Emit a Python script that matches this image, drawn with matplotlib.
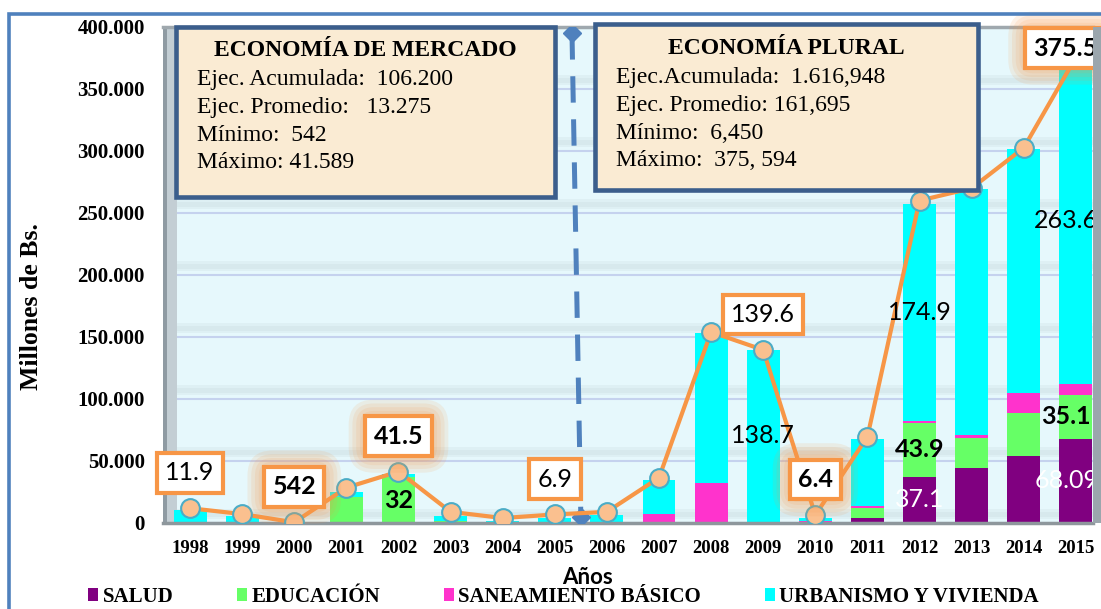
import numpy as np
import matplotlib
matplotlib.use('Agg')
import matplotlib.pyplot as plt
from matplotlib.patches import Rectangle
from matplotlib.ticker import FuncFormatter

# ---- data (miles de millones de Bs.) ----
years = [str(y) for y in range(1998, 2016)]
salud       = [0, 0, 0, 0, 0, 0, 0, 0, 0, 0, 0, 0, 0, 4.0, 37.1, 44.0, 54.0, 68.09]
educacion   = [1.0, 0.5, 0.2, 21.0, 37.0, 2.0, 0.5, 0.5, 0.3, 0, 0, 0, 0.3, 8.0, 43.9, 24.5, 34.7, 35.1]
saneamiento = [0, 0, 0, 0, 0, 0, 0, 0, 0, 7.3, 32.0, 0.9, 1.5, 1.7, 1.5, 2.5, 16.0, 8.7]
urbanismo   = [9.5, 5.1, 0.5, 4.0, 2.5, 4.0, 1.5, 3.5, 6.0, 27.4, 121.0, 138.7, 2.5, 54.3, 174.9, 198.0, 197.0, 263.6]
total       = [11.9, 7.2, 0.542, 28.5, 41.5, 9.0, 4.0, 6.9, 9.0, 36.5, 154.0, 139.6, 6.4, 69.5, 260.0, 270.0, 302.5, 375.5]

series_names = ['SALUD', 'EDUCACIÓN', 'SANEAMIENTO BÁSICO', 'URBANISMO Y VIVIENDA']
series_colors = ['#800080', '#66FF66', '#FF33CC', '#00FFFF']

# boxed labels on the total line
total_label_years = ['1998', '2000', '2002', '2005', '2009', '2010', '2015']
total_label_texts = ['11.9', '542', '41.5', '6.9', '139.6', '6.4', '375.5']
total_label_bold = [False, True, True, False, False, True, True]

# labels inside bar segments
seg_label_years = ['2002', '2009', '2012', '2012', '2012', '2015', '2015', '2015']
seg_label_series = [1, 3, 3, 1, 0, 3, 1, 0]
seg_label_texts = ['32', '138.7', '174.9', '43.9', '37.1', '263.6', '35.1', '68.09']
seg_label_bold = [True, False, False, True, False, False, True, False]
seg_label_color = ['black', 'black', 'black', 'black', 'white', 'black', 'black', 'white']

box1_title = 'ECONOMÍA DE MERCADO'
box1_lines = ['Ejec. Acumulada:  106.200', 'Ejec. Promedio:   13.275',
              'Mínimo:  542', 'Máximo: 41.589']
box2_title = 'ECONOMÍA PLURAL'
box2_lines = ['Ejec.Acumulada:  1.616,948', 'Ejec. Promedio: 161,695',
              'Mínimo:  6,450', 'Máximo:  375, 594']

plt.rcParams['font.family'] = ['Liberation Serif', 'DejaVu Serif']
plt.rcParams['lines.scale_dashes'] = False

W, H = 1101, 609
fig = plt.figure(figsize=(W / 100, H / 100), dpi=100)
fig.patch.set_facecolor('white')


def fx(px):
    return px / W


def fy(py):
    return 1 - py / H


ax = fig.add_axes([fx(163), fy(523), fx(1093) - fx(163), fy(27) - fy(523)])
ax.set_facecolor('#E6F8FC')

x = np.arange(len(years))
stack = [salud, educacion, saneamiento, urbanismo]
bottom = np.zeros(len(years))
bar_handles = []
for vals, name, col in zip(stack, series_names, series_colors):
    b = ax.bar(x, vals, width=0.63, bottom=bottom, color=col, label=name, zorder=2)
    bar_handles.append(b)
    bottom += np.array(vals)

ax.plot(x, total, color='#F79646', lw=3, marker='o', ms=13.5,
        mfc='#FAC08F', mec='#4BACC6', mew=1.5, zorder=5)

# divider between periods
ax.plot([7.33, 7.5], [395, 4.8], color='#4F81BD', lw=3.6, dashes=(19, 12),
        marker='D', ms=9, zorder=3)

ax.set_xlim(-0.52, 17.33)
ax.set_ylim(0, 400)
ax.set_xticks(x, years)
ax.set_yticks(np.arange(0, 401, 50))
ax.yaxis.set_major_formatter(FuncFormatter(lambda v, p: '0' if v == 0 else f'{int(v)}.000'))
ax.tick_params(axis='both', length=0)
ax.tick_params(axis='x', pad=12, labelsize=13.5)
ax.tick_params(axis='y', pad=13, labelsize=15)
plt.setp(ax.get_xticklabels(), fontweight='bold')
plt.setp(ax.get_yticklabels(), fontweight='bold')

ax.set_axisbelow(True)
ax.yaxis.grid(True, color='#C5D2EE', lw=1.5)
for v in range(0, 400, 50):
    ax.axhspan(v + 3.2, v + 11, color='#8A979F', alpha=0.08, lw=0, zorder=0.3)
    ax.axhspan(v + 5, v + 9, color='#8A979F', alpha=0.08, lw=0, zorder=0.3)

ax.add_patch(Rectangle((0, 0), 4 / 930, 1, transform=ax.transAxes,
                       fc='#8F9BA3', lw=0, zorder=0.6))
ax.add_patch(Rectangle((4 / 930, 0), 10 / 930, 1, transform=ax.transAxes,
                       fc='#C3CED4', lw=0, zorder=0.6))
for s in ['left', 'right']:
    ax.spines[s].set_visible(False)
ax.spines['bottom'].set_color('#8E979C')
ax.spines['bottom'].set_linewidth(2.5)
ax.spines['top'].set_color('#9FA8AE')
ax.spines['top'].set_linewidth(2.5)

# boxed labels on the total line (the last one is pulled in from the right edge)
for yr, txt, bold in zip(total_label_years, total_label_texts, total_label_bold):
    i = years.index(yr)
    tx = i - 0.2 if i == len(years) - 1 else i
    ty = min(total[i] + 28.5, 383)
    if bold:
        for pad in [1.0, 0.85, 0.7, 0.55, 0.42]:
            ax.text(tx, ty, txt, ha='center', va='center', fontsize=18,
                    family='Lato', weight='bold', color='none', zorder=6,
                    clip_on=False,
                    bbox=dict(boxstyle=f'round,pad={pad}', fc='#F79646',
                              ec='none', alpha=0.12))
    ax.text(tx, ty, txt, ha='center', va='center', fontsize=18, family='Lato',
            weight='bold' if bold else 'normal', zorder=7, clip_on=False,
            bbox=dict(boxstyle='square,pad=0.33', fc='white', ec='#F79646', lw=3))

# labels inside segments
cum = np.cumsum(np.array(stack), axis=0)
for yr, si, txt, bold, col in zip(seg_label_years, seg_label_series, seg_label_texts,
                                  seg_label_bold, seg_label_color):
    i = years.index(yr)
    tx = i - 0.18 if i == len(years) - 1 else i
    mid = cum[si][i] - stack[si][i] / 2
    ax.text(tx, mid, txt, ha='center', va='center', fontsize=18, family='Lato',
            weight='bold' if bold else 'normal', color=col, zorder=6, clip_on=False)

# right edge strip of the 3D wall
fig.add_artist(Rectangle((fx(1093), fy(523)), fx(1101) - fx(1093), fy(27) - fy(523),
                         transform=fig.transFigure, fc='#9BA6AD', lw=0))

# outer frame
fig.add_artist(Rectangle((fx(9), -0.1), 1.2, fy(14) + 0.1, transform=fig.transFigure,
                         fill=False, ec='#4F81BD', lw=2.6, clip_on=False))


def info_box(x0, y0, x1, y1, title, lines, title_y, line_x, line_ys):
    fig.add_artist(Rectangle((fx(x0), fy(y1)), fx(x1) - fx(x0), fy(y0) - fy(y1),
                             transform=fig.transFigure, fc='#FAEBD3', ec='#3B5E8C',
                             lw=3.3, zorder=10))
    fig.text(fx((x0 + x1) / 2), fy(title_y), title, ha='center', va='center',
             fontsize=17, weight='bold', zorder=11)
    for ln, ly in zip(lines, line_ys):
        fig.text(fx(line_x), fy(ly), ln, ha='left', va='center', fontsize=17, zorder=11)


info_box(176, 27, 555, 197, box1_title, box1_lines, 51, 197, [80, 107, 135, 162])
info_box(595, 24, 978, 190, box2_title, box2_lines, 48, 616, [78, 106, 133, 160])

fig.text(fx(32), fy(307), 'Millones de Bs.', rotation=90, ha='center', va='center',
         fontsize=18.5, weight='bold')
fig.text(fx(587), fy(577), 'Años', ha='center', va='center', fontsize=16,
         family='Lato', weight='bold')

fig.legend(handles=bar_handles, labels=series_names, loc='center left',
           bbox_to_anchor=(fx(88), fy(597)), ncol=4, frameon=False,
           prop=dict(family='Liberation Serif', weight='bold', size=15),
           handlelength=0.5, handleheight=0.6, handletextpad=0.2,
           columnspacing=3.05, borderpad=0, borderaxespad=0)

fig.savefig('out.png', dpi=100)
